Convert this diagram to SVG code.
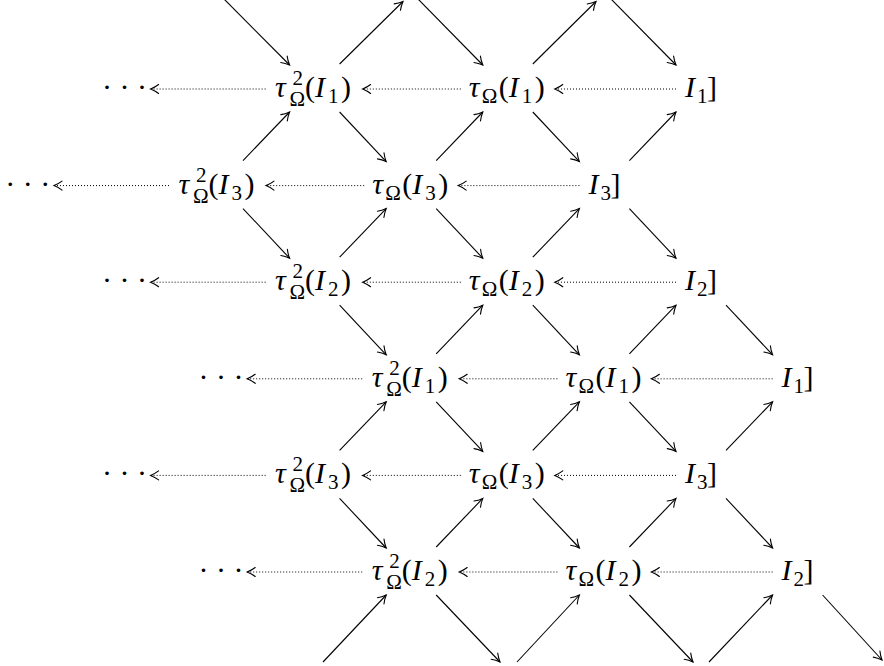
<svg xmlns="http://www.w3.org/2000/svg" width="884" height="666" viewBox="0 0 884 666">
<style>
.m{font-family:"Liberation Serif",serif;font-size:30px;fill:#000}
.it{font-style:italic}
.s{font-size:21px}
.d{stroke:#000;stroke-width:1.1;fill:none;marker-end:url(#ah)}
.h{stroke:#000;stroke-width:1;stroke-dasharray:1 2;fill:none;marker-end:url(#ah)}
</style>
<defs>
<marker id="ah" viewBox="-10 -6 12 12" refX="0" refY="0" markerWidth="12" markerHeight="12" markerUnits="userSpaceOnUse" orient="auto">
<path d="M-8,-4.5 C-5,-2.2 -2,-0.8 0,0 C-2,0.8 -5,2.2 -8,4.5" fill="none" stroke="#000" stroke-width="1.1" stroke-dasharray="none" stroke-linecap="round"/>
</marker>
</defs>

<!-- Row 1 -->
<g id="r1-dots" transform="translate(124.4,97)"><text class="m" x="0" y="0" text-anchor="middle">· · ·</text></g>
<g id="r1-t2I1" transform="translate(313.6,97)"><text class="m"><tspan class="it" x="-38.5" y="0">τ</tspan><tspan class="s" x="-21" y="-12">2</tspan><tspan class="s" x="-24" y="9">Ω</tspan><tspan x="-8.5" y="0">(</tspan><tspan class="it" x="1.5" y="0">I</tspan><tspan class="s" x="14.5" y="6">1</tspan><tspan x="27.5" y="0">)</tspan></text></g>
<g id="r1-tI1" transform="translate(506.8,97)"><text class="m"><tspan class="it" x="-38" y="0">τ</tspan><tspan class="s" x="-25" y="6">Ω</tspan><tspan x="-8" y="0">(</tspan><tspan class="it" x="2" y="0">I</tspan><tspan class="s" x="15" y="6">1</tspan><tspan x="28" y="0">)</tspan></text></g>
<g id="r1-I1" transform="translate(700,97)"><text class="m"><tspan class="it" x="-15" y="0">I</tspan><tspan class="s" x="-3" y="6">1</tspan><tspan x="7" y="0">]</tspan></text></g>

<!-- Row 2 -->
<g id="r2-dots" transform="translate(27.8,193.6)"><text class="m" x="0" y="0" text-anchor="middle">· · ·</text></g>
<g id="r2-t2I3" transform="translate(217,193.6)"><text class="m"><tspan class="it" x="-38.5" y="0">τ</tspan><tspan class="s" x="-21" y="-12">2</tspan><tspan class="s" x="-24" y="9">Ω</tspan><tspan x="-8.5" y="0">(</tspan><tspan class="it" x="1.5" y="0">I</tspan><tspan class="s" x="14.5" y="6">3</tspan><tspan x="27.5" y="0">)</tspan></text></g>
<g id="r2-tI3" transform="translate(410.2,193.6)"><text class="m"><tspan class="it" x="-38" y="0">τ</tspan><tspan class="s" x="-25" y="6">Ω</tspan><tspan x="-8" y="0">(</tspan><tspan class="it" x="2" y="0">I</tspan><tspan class="s" x="15" y="6">3</tspan><tspan x="28" y="0">)</tspan></text></g>
<g id="r2-I3" transform="translate(603.4,193.6)"><text class="m"><tspan class="it" x="-15" y="0">I</tspan><tspan class="s" x="-3" y="6">3</tspan><tspan x="7" y="0">]</tspan></text></g>

<!-- Row 3 -->
<g id="r3-dots" transform="translate(124.4,290.2)"><text class="m" x="0" y="0" text-anchor="middle">· · ·</text></g>
<g id="r3-t2I2" transform="translate(313.6,290.2)"><text class="m"><tspan class="it" x="-38.5" y="0">τ</tspan><tspan class="s" x="-21" y="-12">2</tspan><tspan class="s" x="-24" y="9">Ω</tspan><tspan x="-8.5" y="0">(</tspan><tspan class="it" x="1.5" y="0">I</tspan><tspan class="s" x="14.5" y="6">2</tspan><tspan x="27.5" y="0">)</tspan></text></g>
<g id="r3-tI2" transform="translate(506.8,290.2)"><text class="m"><tspan class="it" x="-38" y="0">τ</tspan><tspan class="s" x="-25" y="6">Ω</tspan><tspan x="-8" y="0">(</tspan><tspan class="it" x="2" y="0">I</tspan><tspan class="s" x="15" y="6">2</tspan><tspan x="28" y="0">)</tspan></text></g>
<g id="r3-I2" transform="translate(700,290.2)"><text class="m"><tspan class="it" x="-15" y="0">I</tspan><tspan class="s" x="-3" y="6">2</tspan><tspan x="7" y="0">]</tspan></text></g>

<!-- Row 4 -->
<g id="r4-dots" transform="translate(221,386.8)"><text class="m" x="0" y="0" text-anchor="middle">· · ·</text></g>
<g id="r4-t2I1" transform="translate(410.2,386.8)"><text class="m"><tspan class="it" x="-38.5" y="0">τ</tspan><tspan class="s" x="-21" y="-12">2</tspan><tspan class="s" x="-24" y="9">Ω</tspan><tspan x="-8.5" y="0">(</tspan><tspan class="it" x="1.5" y="0">I</tspan><tspan class="s" x="14.5" y="6">1</tspan><tspan x="27.5" y="0">)</tspan></text></g>
<g id="r4-tI1" transform="translate(603.4,386.8)"><text class="m"><tspan class="it" x="-38" y="0">τ</tspan><tspan class="s" x="-25" y="6">Ω</tspan><tspan x="-8" y="0">(</tspan><tspan class="it" x="2" y="0">I</tspan><tspan class="s" x="15" y="6">1</tspan><tspan x="28" y="0">)</tspan></text></g>
<g id="r4-I1" transform="translate(796.6,386.8)"><text class="m"><tspan class="it" x="-15" y="0">I</tspan><tspan class="s" x="-3" y="6">1</tspan><tspan x="7" y="0">]</tspan></text></g>

<!-- Row 5 -->
<g id="r5-dots" transform="translate(124.4,483.4)"><text class="m" x="0" y="0" text-anchor="middle">· · ·</text></g>
<g id="r5-t2I3" transform="translate(313.6,483.4)"><text class="m"><tspan class="it" x="-38.5" y="0">τ</tspan><tspan class="s" x="-21" y="-12">2</tspan><tspan class="s" x="-24" y="9">Ω</tspan><tspan x="-8.5" y="0">(</tspan><tspan class="it" x="1.5" y="0">I</tspan><tspan class="s" x="14.5" y="6">3</tspan><tspan x="27.5" y="0">)</tspan></text></g>
<g id="r5-tI3" transform="translate(506.8,483.4)"><text class="m"><tspan class="it" x="-38" y="0">τ</tspan><tspan class="s" x="-25" y="6">Ω</tspan><tspan x="-8" y="0">(</tspan><tspan class="it" x="2" y="0">I</tspan><tspan class="s" x="15" y="6">3</tspan><tspan x="28" y="0">)</tspan></text></g>
<g id="r5-I3" transform="translate(700,483.4)"><text class="m"><tspan class="it" x="-15" y="0">I</tspan><tspan class="s" x="-3" y="6">3</tspan><tspan x="7" y="0">]</tspan></text></g>

<!-- Row 6 -->
<g id="r6-dots" transform="translate(221,580)"><text class="m" x="0" y="0" text-anchor="middle">· · ·</text></g>
<g id="r6-t2I2" transform="translate(410.2,580)"><text class="m"><tspan class="it" x="-38.5" y="0">τ</tspan><tspan class="s" x="-21" y="-12">2</tspan><tspan class="s" x="-24" y="9">Ω</tspan><tspan x="-8.5" y="0">(</tspan><tspan class="it" x="1.5" y="0">I</tspan><tspan class="s" x="14.5" y="6">2</tspan><tspan x="27.5" y="0">)</tspan></text></g>
<g id="r6-tI2" transform="translate(603.4,580)"><text class="m"><tspan class="it" x="-38" y="0">τ</tspan><tspan class="s" x="-25" y="6">Ω</tspan><tspan x="-8" y="0">(</tspan><tspan class="it" x="2" y="0">I</tspan><tspan class="s" x="15" y="6">2</tspan><tspan x="28" y="0">)</tspan></text></g>
<g id="r6-I2" transform="translate(796.6,580)"><text class="m"><tspan class="it" x="-15" y="0">I</tspan><tspan class="s" x="-3" y="6">2</tspan><tspan x="7" y="0">]</tspan></text></g>

<g id="connectors">
<!-- dotted translation arrows -->
<line class="h" x1="676" y1="89" x2="554.8" y2="89"/>
<line class="h" x1="460.8" y1="89" x2="362.6" y2="89"/>
<line class="h" x1="265.6" y1="89" x2="150.6" y2="89"/>

<line class="h" x1="579.4" y1="185.6" x2="458.2" y2="185.6"/>
<line class="h" x1="364.2" y1="185.6" x2="266" y2="185.6"/>
<line class="h" x1="169" y1="185.6" x2="54" y2="185.6"/>

<line class="h" x1="676" y1="282.2" x2="554.8" y2="282.2"/>
<line class="h" x1="460.8" y1="282.2" x2="362.6" y2="282.2"/>
<line class="h" x1="265.6" y1="282.2" x2="150.6" y2="282.2"/>

<line class="h" x1="772.6" y1="378.8" x2="651.4" y2="378.8"/>
<line class="h" x1="557.4" y1="378.8" x2="459.2" y2="378.8"/>
<line class="h" x1="362.2" y1="378.8" x2="247.2" y2="378.8"/>

<line class="h" x1="676" y1="475.4" x2="554.8" y2="475.4"/>
<line class="h" x1="460.8" y1="475.4" x2="362.6" y2="475.4"/>
<line class="h" x1="265.6" y1="475.4" x2="150.6" y2="475.4"/>

<line class="h" x1="772.6" y1="572" x2="651.4" y2="572"/>
<line class="h" x1="557.4" y1="572" x2="459.2" y2="572"/>
<line class="h" x1="362.2" y1="572" x2="247.2" y2="572"/>

<!-- top partial arrows -->
<line class="d" x1="224" y1="-1" x2="289.6" y2="65"/>
<line class="d" x1="339.6" y1="64" x2="403" y2="1.5"/>
<line class="d" x1="418" y1="-1" x2="482.8" y2="65"/>
<line class="d" x1="532.8" y1="64" x2="596" y2="1.5"/>
<line class="d" x1="611" y1="-1" x2="676" y2="65"/>

<!-- rows 1-2 -->
<line class="d" x1="243" y1="160.6" x2="289.6" y2="112"/>
<line class="d" x1="339.6" y1="112" x2="386.2" y2="161.6"/>
<line class="d" x1="436.2" y1="160.6" x2="482.8" y2="112"/>
<line class="d" x1="532.8" y1="112" x2="579.4" y2="161.6"/>
<line class="d" x1="629.4" y1="160.6" x2="676" y2="112"/>
<!-- rows 2-3 -->
<line class="d" x1="243" y1="208.6" x2="289.6" y2="258.2"/>
<line class="d" x1="339.6" y1="257.2" x2="386.2" y2="208.6"/>
<line class="d" x1="436.2" y1="208.6" x2="482.8" y2="258.2"/>
<line class="d" x1="532.8" y1="257.2" x2="579.4" y2="208.6"/>
<line class="d" x1="629.4" y1="208.6" x2="676" y2="258.2"/>
<!-- rows 3-4 -->
<line class="d" x1="339.6" y1="305.2" x2="386.2" y2="354.8"/>
<line class="d" x1="436.2" y1="353.8" x2="482.8" y2="305.2"/>
<line class="d" x1="532.8" y1="305.2" x2="579.4" y2="354.8"/>
<line class="d" x1="629.4" y1="353.8" x2="676" y2="305.2"/>
<line class="d" x1="726" y1="305.2" x2="772.6" y2="354.8"/>
<!-- rows 4-5 -->
<line class="d" x1="339.6" y1="450.4" x2="386.2" y2="401.8"/>
<line class="d" x1="436.2" y1="401.8" x2="482.8" y2="451.4"/>
<line class="d" x1="532.8" y1="450.4" x2="579.4" y2="401.8"/>
<line class="d" x1="629.4" y1="401.8" x2="676" y2="451.4"/>
<line class="d" x1="726" y1="450.4" x2="772.6" y2="401.8"/>
<!-- rows 5-6 -->
<line class="d" x1="339.6" y1="498.4" x2="386.2" y2="548"/>
<line class="d" x1="436.2" y1="547" x2="482.8" y2="498.4"/>
<line class="d" x1="532.8" y1="498.4" x2="579.4" y2="548"/>
<line class="d" x1="629.4" y1="547" x2="676" y2="498.4"/>
<line class="d" x1="726" y1="498.4" x2="772.6" y2="548"/>
<!-- bottom partial arrows -->
<line class="d" x1="323" y1="662" x2="386.2" y2="595"/>
<line class="d" x1="436.2" y1="595" x2="500" y2="662"/>
<line class="d" x1="517" y1="662" x2="579.4" y2="595"/>
<line class="d" x1="629.4" y1="595" x2="693" y2="662"/>
<line class="d" x1="709" y1="662" x2="772.6" y2="595"/>
<line class="d" x1="822.6" y1="595" x2="882" y2="660"/>
</g>
</svg>
